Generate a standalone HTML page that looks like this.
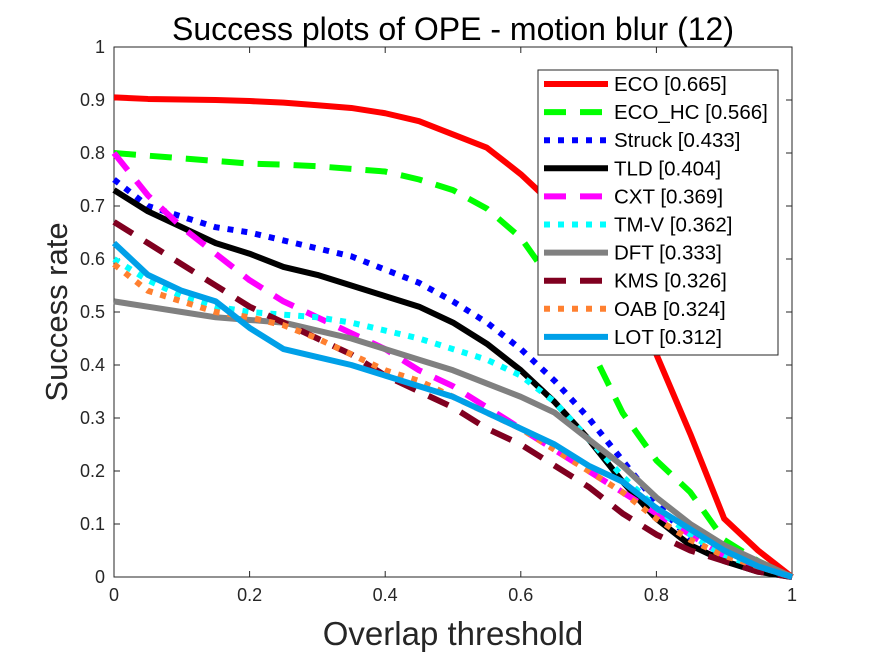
<!DOCTYPE html>
<html><head><meta charset="utf-8"><style>
body{margin:0;background:#fff}
svg{display:block;font-family:"Liberation Sans",sans-serif}
</style></head><body>
<svg id="chart" width="875" height="656"></svg>
<script>
const thresholds=[0,0.05,0.1,0.15,0.2,0.25,0.3,0.35,0.4,0.45,0.5,0.55,0.6,0.65,0.7,0.75,0.8,0.85,0.9,0.95,1];
const seriesNames=["ECO [0.665]","ECO_HC [0.566]","Struck [0.433]","TLD [0.404]","CXT [0.369]","TM-V [0.362]","DFT [0.333]","KMS [0.326]","OAB [0.324]","LOT [0.312]"];
const ecoVals=[0.905,0.902,0.901,0.9,0.898,0.895,0.89,0.885,0.875,0.86,0.835,0.81,0.76,0.70,0.62,0.52,0.42,0.27,0.11,0.05,0];
const ecoHcVals=[0.80,0.795,0.79,0.785,0.78,0.778,0.775,0.77,0.765,0.75,0.73,0.695,0.64,0.55,0.44,0.31,0.22,0.16,0.07,0.03,0];
const struckVals=[0.75,0.70,0.68,0.66,0.65,0.635,0.62,0.605,0.58,0.555,0.52,0.48,0.43,0.37,0.30,0.22,0.14,0.07,0.04,0.02,0];
const tldVals=[0.73,0.69,0.66,0.63,0.61,0.585,0.57,0.55,0.53,0.51,0.48,0.44,0.39,0.33,0.26,0.18,0.11,0.06,0.03,0.01,0];
const cxtVals=[0.80,0.72,0.66,0.61,0.56,0.52,0.49,0.46,0.43,0.39,0.36,0.32,0.28,0.24,0.20,0.16,0.12,0.08,0.04,0.02,0];
const tmvVals=[0.60,0.56,0.53,0.51,0.50,0.495,0.49,0.48,0.465,0.45,0.43,0.41,0.38,0.33,0.26,0.19,0.13,0.08,0.04,0.02,0];
const dftVals=[0.52,0.51,0.50,0.49,0.485,0.48,0.465,0.45,0.43,0.41,0.39,0.365,0.34,0.31,0.26,0.21,0.15,0.10,0.06,0.03,0];
const kmsVals=[0.67,0.63,0.59,0.55,0.51,0.48,0.45,0.42,0.38,0.35,0.32,0.28,0.25,0.21,0.17,0.12,0.08,0.05,0.03,0.01,0];
const oabVals=[0.59,0.54,0.52,0.50,0.49,0.475,0.45,0.42,0.39,0.37,0.34,0.31,0.28,0.24,0.20,0.16,0.11,0.07,0.04,0.02,0];
const lotVals=[0.63,0.57,0.54,0.52,0.47,0.43,0.415,0.40,0.38,0.36,0.34,0.31,0.28,0.25,0.21,0.18,0.13,0.09,0.05,0.02,0];
const xTicks=["0","0.2","0.4","0.6","0.8","1"];
const yTicks=["0","0.1","0.2","0.3","0.4","0.5","0.6","0.7","0.8","0.9","1"];

const NS="http://www.w3.org/2000/svg";
const svg=document.getElementById("chart");
const L=114,R=792,T=47,B=577;
const xs=v=>L+(R-L)*v, ys=v=>B-(B-T)*v;
function mk(tag,attrs,parent){const e=document.createElementNS(NS,tag);for(const k in attrs)e.setAttribute(k,attrs[k]);(parent||svg).appendChild(e);return e;}
const styles=[
 {c:"#ff0000",d:""},{c:"#00ff00",d:"22 14"},{c:"#0000ff",d:"6 8"},{c:"#000000",d:""},
 {c:"#ff00ff",d:"22 14"},{c:"#00ffff",d:"6 8"},{c:"#808080",d:""},{c:"#800020",d:"22 14"},
 {c:"#ff8030",d:"6 8"},{c:"#00a0e8",d:""}];
const allVals=[ecoVals,ecoHcVals,struckVals,tldVals,cxtVals,tmvVals,dftVals,kmsVals,oabVals,lotVals];

const frame=mk("rect",{x:L,y:T,width:R-L,height:B-T,fill:"#fff",stroke:"#262626","stroke-width":1});



xTicks.forEach(t=>{const v=parseFloat(t),x=xs(v);
 mk("line",{x1:x,y1:B,x2:x,y2:B-6,stroke:"#262626"});mk("line",{x1:x,y1:T,x2:x,y2:T+6,stroke:"#262626"});
 const tx=mk("text",{x:x,y:B+24,"text-anchor":"middle","font-size":18,fill:"#262626"});tx.textContent=t;
 
 });
yTicks.forEach(t=>{const v=parseFloat(t),y=ys(v);
 mk("line",{x1:L,y1:y,x2:L+6,y2:y,stroke:"#262626"});mk("line",{x1:R,y1:y,x2:R-6,y2:y,stroke:"#262626"});
 const tx=mk("text",{x:L-9,y:y+6,"text-anchor":"end","font-size":18,fill:"#262626"});tx.textContent=t;
 
 });

allVals.forEach((vals,i)=>{
 const p=mk("polyline",{points:vals.map((v,j)=>xs(thresholds[j])+","+ys(v)).join(" "),fill:"none",stroke:styles[i].c,"stroke-width":6,"stroke-dasharray":styles[i].d,"stroke-linejoin":"round"});
 
 });

const title=mk("text",{x:453,y:40,"text-anchor":"middle","font-size":32,fill:"#000"});
title.textContent="Success plots of OPE - motion blur (12)";


const xl=mk("text",{x:453,y:645,"text-anchor":"middle","font-size":33,fill:"#262626"});
xl.textContent="Overlap threshold";


const yl=mk("text",{x:0,y:0,"text-anchor":"middle","font-size":31,fill:"#262626",transform:"translate(67,312) rotate(-90)"});
yl.textContent="Success rate";



const lg=mk("g",{});


mk("rect",{x:538,y:70,width:240,height:285,fill:"#fff",stroke:"#262626"},lg);
seriesNames.forEach((n,i)=>{const y=84+i*28.1;
 const ln=mk("line",{x1:544,y1:y,x2:608,y2:y,stroke:styles[i].c,"stroke-width":6,"stroke-dasharray":styles[i].d},lg);
 
 
 const tx=mk("text",{x:614,y:y+7,"font-size":20.5,fill:"#000"},lg);tx.textContent=n;
 
 });
</script>
</body></html>
